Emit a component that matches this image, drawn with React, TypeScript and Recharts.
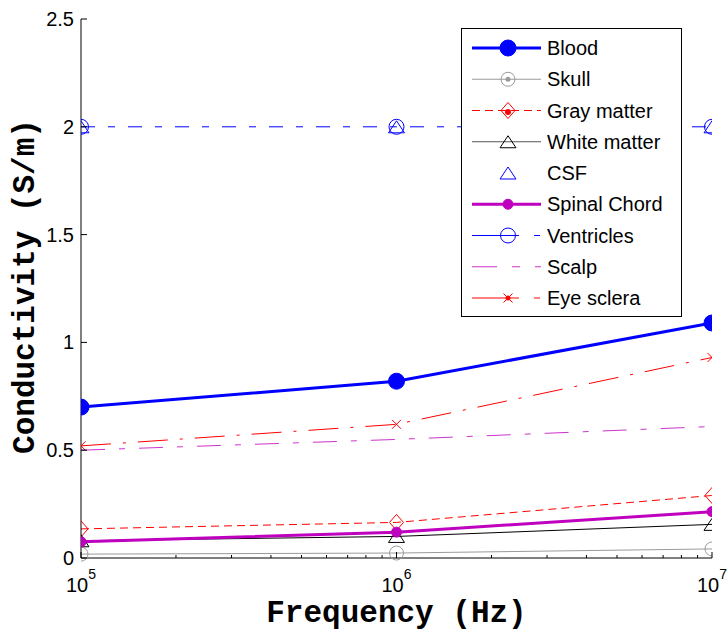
import React from 'react';
import { LineChart, Line, XAxis, YAxis, Legend } from 'recharts';

// ---- data ----
const frequencies = [1e5, 1e6, 1e7];
const blood = [0.7, 0.82, 1.09];
const skull = [0.018, 0.023, 0.042];
const grayMatter = [0.135, 0.165, 0.29];
const whiteMatter = [0.08, 0.1, 0.156];
const csf = [2.0, 2.0, 2.0];
const spinalChord = [0.075, 0.12, 0.215];
const ventricles = [2.0, 2.0, 2.0];
const scalp = [0.5, 0.55, 0.61];
const eyeSclera = [0.52, 0.62, 0.93];

const seriesNames = ['Blood', 'Skull', 'Gray matter', 'White matter', 'CSF', 'Spinal Chord', 'Ventricles', 'Scalp', 'Eye sclera'];
const seriesKeys = ['blood', 'skull', 'gray', 'white', 'csf', 'spinal', 'ventricles', 'scalp', 'eye'];
const seriesValues = [blood, skull, grayMatter, whiteMatter, csf, spinalChord, ventricles, scalp, eyeSclera];

const yTicks = [0, 0.5, 1, 1.5, 2, 2.5];
const xTicks = [1e5, 2e5, 3e5, 4e5, 5e5, 6e5, 7e5, 8e5, 9e5, 1e6, 2e6, 3e6, 4e6, 5e6, 6e6, 7e6, 8e6, 9e6, 1e7];
const xMajor = [1e5, 1e6, 1e7];

const xLabel = 'Frequency (Hz)';
const yLabel = 'Conductivity (S/m)';

const data = frequencies.map((f, i) => {
  const row: any = { f };
  seriesKeys.forEach((k, j) => { row[k] = seriesValues[j][i]; });
  return row;
});

// ---- styles ----
type Style = {
  color: string; width: number; dash?: string; marker: string; r: number; legendDash?: string; noLine?: boolean; legendColor?: string;
};
const styles: Style[] = [
  { color: '#0000ff', width: 3, marker: 'circleFilled', r: 8 },
  { color: '#9a9a9a', width: 1, marker: 'circleOpen', r: 7 },
  { color: '#ff0000', width: 1, dash: '8 5', marker: 'diamond', r: 7, legendDash: '8 5' },
  { color: '#000000', width: 1, marker: 'triangle', r: 8, legendColor: '#555' },
  { color: '#0000ff', width: 1, marker: 'triangle', r: 8, noLine: true },
  { color: '#bf00bf', width: 3, marker: 'circleFilled', r: 5 },
  { color: '#0000ff', width: 1, dash: '14 13 7 13', marker: 'circleOpen', r: 7.5, legendDash: '47 15 6 10' },
  { color: '#cc33cc', width: 1, dash: '24 14 6 14', marker: 'none', r: 0, legendDash: '25 15 8 15 6 10' },
  { color: '#ff0000', width: 1, dash: '30 12 3 12', marker: 'x', r: 4.5, legendDash: '47 15 6 10' },
];

const FONT = '"Liberation Sans", Arial, sans-serif';
const MONO = '"Liberation Mono", "Courier New", monospace';

function marker(type: string, cx: number, cy: number, color: string, r: number, legend = false, key?: any) {
  switch (type) {
    case 'circleFilled':
      return <circle key={key} cx={cx} cy={cy} r={r} fill={color} stroke={color} strokeWidth={1} />;
    case 'circleOpen':
      return (
        <g key={key}>
          <circle cx={cx} cy={cy} r={r} fill="none" stroke={color} strokeWidth={1} />
          {legend && color === '#9a9a9a' ? <circle cx={cx} cy={cy} r={2.5} fill={color} /> : null}
        </g>
      );
    case 'diamond':
      return (
        <g key={key}>
          <path d={`M${cx},${cy - r - 1} L${cx + r},${cy} L${cx},${cy + r + 1} L${cx - r},${cy} Z`} fill="none" stroke={color} strokeWidth={1} />
          {legend ? <circle cx={cx} cy={cy + 1.5} r={3} fill={color} /> : null}
        </g>
      );
    case 'triangle':
      return <path key={key} d={`M${cx},${cy - 6} L${cx + r},${cy + 6} L${cx - r},${cy + 6} Z`} fill="none" stroke={color} strokeWidth={1} />;
    case 'x':
      return (
        <g key={key}>
          <path d={`M${cx - r},${cy - r} L${cx + r},${cy + r} M${cx - r},${cy + r} L${cx + r},${cy - r}`} stroke={color} strokeWidth={1} />
          {legend ? <circle cx={cx} cy={cy} r={2.5} fill={color} /> : null}
        </g>
      );
    default:
      return <g key={key} />;
  }
}

const makeDot = (st: Style) => (props: any) => {
  const { cx, cy, index } = props;
  if (cx == null || cy == null || st.marker === 'none') return <g key={`d${index}`} />;
  return marker(st.marker, cx, cy, st.color, st.r, false, `d${index}`);
};

// ---- ticks ----
const XTick = (props: any) => {
  const { x, y, payload, side } = props;
  const v = payload.value;
  const isMajor = xMajor.some((m) => Math.abs(m - v) < 1);
  const exp = Math.round(Math.log10(v));
  const len = isMajor ? 6 : 3;
  const dir = side === 'top' ? 1 : -1;
  return (
    <g>
      <line x1={x} x2={x} y1={y} y2={y + dir * len} stroke="#000" strokeWidth={1} />
      {isMajor && side === 'bottom' ? (
        <text x={x} y={y + 34} textAnchor="middle" fontFamily={FONT} fontSize={20} fill="#000">
          10<tspan dy={-13} fontSize={14}>{exp}</tspan>
        </text>
      ) : null}
    </g>
  );
};

const YTick = (props: any) => {
  const { x, y, payload, side } = props;
  const dir = side === 'right' ? -1 : 1;
  return (
    <g>
      <line x1={x} x2={x + dir * 6} y1={y} y2={y} stroke="#000" strokeWidth={1} />
      {side === 'left' ? (
        <text x={x - 7} y={y} dy="0.35em" textAnchor="end" fontFamily={FONT} fontSize={20} fill="#000">
          {String(payload.value)}
        </text>
      ) : null}
    </g>
  );
};

const XLabel = (props: any) => {
  const vb = props.viewBox || { x: 81, y: 558, width: 631, height: 72 };
  return (
    <text x={vb.x + vb.width / 2} y={vb.y + 64} textAnchor="middle" fontFamily={MONO} fontWeight="bold" fontSize={31} fill="#000">
      {xLabel}
    </text>
  );
};

const YLabel = (props: any) => {
  const vb = props.viewBox || { x: 0, y: 19, width: 81, height: 539 };
  const cx = vb.x + 34;
  const cy = vb.y + vb.height / 2 - 2;
  return (
    <text x={cx} y={cy} transform={`rotate(-90, ${cx}, ${cy})`} textAnchor="middle" fontFamily={MONO} fontWeight="bold" fontSize={31} fill="#000">
      {yLabel}
    </text>
  );
};

// ---- legend ----
const LegendBox = () => {
  const W = 221;
  const H = 289;
  const rowH = 31.25;
  return (
    <svg width={W} height={H} style={{ display: 'block' }}>
      <rect x={0.5} y={0.5} width={W - 1} height={H - 1} fill="#fff" stroke="#000" strokeWidth={1} />
      {seriesNames.map((name, i) => {
        const st = styles[i];
        const cy = 20 + i * rowH;
        return (
          <g key={name}>
            {!st.noLine ? (
              <line x1={11} x2={80} y1={cy} y2={cy} stroke={st.legendColor || st.color} strokeWidth={st.width} strokeDasharray={st.legendDash} />
            ) : null}
            {marker(st.marker, 47, cy, st.color, st.r, true)}
            <text x={86} y={cy} dy="0.35em" fontFamily={FONT} fontSize={20} fill="#000">
              {name}
            </text>
          </g>
        );
      })}
    </svg>
  );
};

export default function App() {
  return (
    <div style={{ position: 'absolute', left: 0, top: 0, width: 728, height: 630, background: '#fff' }}>
      <LineChart width={728} height={630} data={data} margin={{ top: 19, right: 16, bottom: 0, left: 0 }}>
        <XAxis
          xAxisId="bottom"
          dataKey="f"
          type="number"
          scale="log"
          domain={[1e5, 1e7]}
          allowDataOverflow
          ticks={xTicks}
          interval={0}
          height={72}
          tickSize={0}
          tickMargin={0}
          tickLine={false}
          axisLine={{ stroke: '#000', strokeWidth: 1 }}
          tick={<XTick side="bottom" />}
          label={<XLabel />}
        />
        <XAxis
          xAxisId="top"
          orientation="top"
          dataKey="f"
          type="number"
          scale="log"
          domain={[1e5, 1e7]}
          allowDataOverflow
          ticks={xTicks}
          interval={0}
          height={0}
          tickSize={0}
          tickMargin={0}
          tickLine={false}
          axisLine={{ stroke: '#000', strokeWidth: 1 }}
          tick={<XTick side="top" />}
        />
        <YAxis
          yAxisId="left"
          type="number"
          domain={[0, 2.5]}
          ticks={yTicks}
          interval={0}
          width={81}
          tickSize={0}
          tickMargin={0}
          tickLine={false}
          axisLine={{ stroke: '#000', strokeWidth: 1 }}
          tick={<YTick side="left" />}
          label={<YLabel />}
        />
        <YAxis
          yAxisId="right"
          orientation="right"
          type="number"
          domain={[0, 2.5]}
          ticks={yTicks}
          interval={0}
          width={0}
          tickSize={0}
          tickMargin={0}
          tickLine={false}
          axisLine={{ stroke: '#000', strokeWidth: 1 }}
          tick={<YTick side="right" />}
        />
        <Legend
          layout="vertical"
          align="center"
          verticalAlign="middle"
          wrapperStyle={{ left: 461, top: 28, width: 221, height: 289 }}
          content={() => <LegendBox />}
        />
        {seriesKeys.map((k, i) => {
          const st = styles[i];
          return (
            <Line
              key={k}
              xAxisId="bottom"
              yAxisId="left"
              dataKey={k}
              name={seriesNames[i]}
              type="linear"
              stroke={st.noLine ? 'none' : st.color}
              strokeWidth={st.width}
              strokeDasharray={st.dash}
              dot={makeDot(st)}
              activeDot={false}
              isAnimationActive={false}
            />
          );
        })}
      </LineChart>
    </div>
  );
}
